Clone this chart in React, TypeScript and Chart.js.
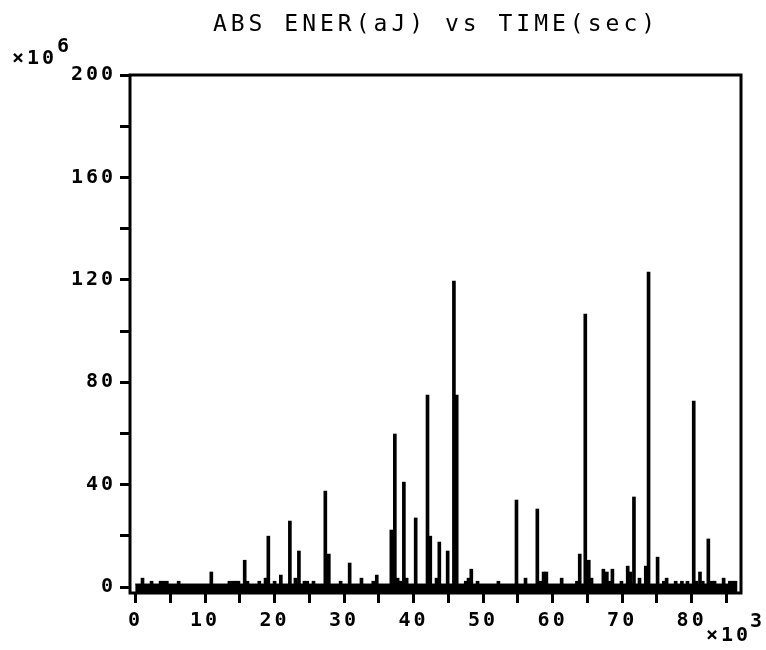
import React, { useEffect, useRef } from 'react';
import { Chart, registerables } from 'chart.js';

Chart.register(...registerables);

// ---- data (time in x10^3 sec, energy in x10^6 aJ) ----
const TITLE = 'ABS ENER(aJ) vs TIME(sec)';
const Y_EXPONENT = '6';
const X_EXPONENT = '3';

const eventTimes = [
  1.0, 2.3, 3.6, 4.0, 4.5, 6.2, 10.9, 13.5, 14.0, 14.4,
  14.8, 15.7, 16.1, 17.8, 18.7, 19.1, 20.0, 20.9, 22.2, 23.0,
  23.5, 24.3, 24.7, 25.6, 27.3, 27.8, 29.5, 30.8, 32.5, 34.2,
  34.7, 36.8, 37.3, 37.7, 38.1, 38.6, 39.0, 40.3, 42.0, 42.4,
  43.3, 43.7, 44.9, 45.8, 46.2, 47.5, 47.9, 48.3, 49.2, 52.2,
  54.8, 56.1, 57.8, 58.3, 58.7, 59.1, 61.3, 63.5, 63.9, 64.7,
  65.2, 65.6, 67.3, 67.8, 68.2, 68.6, 69.9, 70.8, 71.2, 71.7,
  72.5, 73.4, 73.8, 75.1, 76.0, 76.4, 77.7, 78.6, 79.4, 80.3,
  80.7, 81.2, 81.6, 82.4, 82.9, 83.3, 84.6, 85.5, 85.9, 86.3,
];

const eventEnergies = [
  3.5, 2.3, 2.3, 2.3, 2.3, 2.3, 5.9, 2.3, 2.3, 2.3,
  2.3, 10.5, 2.3, 2.3, 3.5, 19.9, 2.3, 4.7, 25.8, 3.5,
  14.1, 2.3, 2.3, 2.3, 37.5, 12.9, 2.3, 9.4, 3.5, 2.3,
  4.7, 22.3, 59.8, 3.5, 2.3, 41.0, 3.5, 27.0, 75.0, 19.9,
  3.5, 17.6, 14.1, 119.5, 75.0, 2.3, 3.5, 7.0, 2.3, 2.3,
  34.0, 3.5, 30.5, 2.3, 5.9, 5.9, 3.5, 2.3, 12.9, 106.6,
  10.5, 3.5, 7.0, 5.9, 2.3, 7.0, 2.3, 8.2, 5.9, 35.2,
  3.5, 8.2, 123.0, 11.7, 2.3, 3.5, 2.3, 2.3, 2.3, 72.7,
  2.3, 5.9, 2.3, 18.8, 2.3, 2.3, 3.5, 2.3, 2.3, 2.3,
];

// dense low-level events forming the floor band
const floorTimes = [-0.05, 86.5];
const floorEnergies = [1.2, 1.2];

const X_MIN = -0.8;
const X_MAX = 87.1;
const X_STEP = 5;
const X_LABEL_STEP = 10;
const Y_MIN = -2.3;
const Y_MAX = 200;
const Y_STEP = 20;
const Y_LABEL_STEP = 40;

const FONT_FAMILY = '"DejaVu Sans Mono", monospace';

const decorPlugin = {
  id: 'decor',
  beforeDraw(chart: any) {
    (chart.ctx as any).letterSpacing = '3px';
  },
  afterDatasetsDraw(chart: any) {
    const { ctx, chartArea } = chart;
    ctx.save();
    ctx.strokeStyle = '#000';
    ctx.lineWidth = 3;
    ctx.strokeRect(chartArea.left, chartArea.top, chartArea.right - chartArea.left, chartArea.bottom - chartArea.top);
    ctx.restore();
  },
  afterDraw(chart: any) {
    const ctx = chart.ctx;
    ctx.save();
    ctx.fillStyle = '#000';
    ctx.textBaseline = 'alphabetic';
    // title
    (ctx as any).letterSpacing = '4px';
    ctx.font = `23px ${FONT_FAMILY}`;
    ctx.textAlign = 'center';
    ctx.fillText(TITLE, 436, 31);
    // exponents
    (ctx as any).letterSpacing = '3px';
    ctx.font = `bold 20px ${FONT_FAMILY}`;
    ctx.textAlign = 'left';
    ctx.fillText('\u00d710', 12, 64);
    ctx.fillText(Y_EXPONENT, 57, 52);
    ctx.fillText('\u00d710', 706, 641);
    ctx.fillText(X_EXPONENT, 750, 627);
    ctx.restore();
    (ctx as any).letterSpacing = '0px';
  },
};

export default function App() {
  const canvasRef = useRef<HTMLCanvasElement | null>(null);

  useEffect(() => {
    const canvas = canvasRef.current;
    if (!canvas) return;
    const tickFont = { family: FONT_FAMILY, size: 20, weight: 'bold' as const };
    const chart = new Chart(canvas, {
      type: 'bar',
      data: {
        datasets: [
          {
            type: 'bar',
            label: 'events',
            data: eventTimes.map((t, i) => ({ x: t, y: eventEnergies[i] })),
            backgroundColor: '#000',
            borderWidth: 0,
            barThickness: 3,
            base: Y_MIN,
            grouped: false,
            order: 1,
          } as any,
          {
            type: 'line',
            label: 'floor',
            data: floorTimes.map((t, i) => ({ x: t, y: floorEnergies[i] })),
            borderColor: '#000',
            backgroundColor: '#000',
            borderWidth: 1,
            pointRadius: 0,
            fill: 'start',
            order: 2,
          } as any,
        ],
      },
      options: {
        animation: false,
        responsive: false,
        devicePixelRatio: 1,
        layout: { padding: { left: 0, right: 25, top: 75, bottom: 0 } },
        plugins: {
          legend: { display: false },
          title: { display: false },
          tooltip: { enabled: false },
        },
        scales: {
          x: {
            type: 'linear',
            min: X_MIN,
            max: X_MAX,
            offset: false,
            border: { display: false },
            grid: {
              display: true,
              drawOnChartArea: false,
              drawTicks: true,
              tickLength: 10,
              tickWidth: 3,
              tickColor: '#000',
              lineWidth: 3,
              color: '#000',
              offset: false,
            },
            ticks: {
              stepSize: X_STEP,
              includeBounds: false,
              autoSkip: false,
              maxRotation: 0,
              minRotation: 0,
              padding: 6,
              color: '#000',
              font: tickFont,
              callback: (v: any) => (Number(v) % X_LABEL_STEP === 0 ? String(v) : ''),
            },
            afterFit: (s: any) => {
              s.height = 57;
            },
          },
          y: {
            type: 'linear',
            min: Y_MIN,
            max: Y_MAX,
            border: { display: false },
            grid: {
              display: true,
              drawOnChartArea: false,
              drawTicks: true,
              tickLength: 10,
              tickWidth: 3,
              tickColor: '#000',
              lineWidth: 3,
              color: '#000',
            },
            ticks: {
              stepSize: Y_STEP,
              includeBounds: false,
              autoSkip: false,
              padding: 4,
              color: '#000',
              font: tickFont,
              callback: (v: any) => (Number(v) % Y_LABEL_STEP === 0 ? String(v) : ''),
            },
            afterFit: (s: any) => {
              s.width = 130;
            },
          },
        },
      } as any,
      plugins: [decorPlugin],
    });
    return () => chart.destroy();
  }, []);

  return (
    <div style={{ position: 'absolute', left: 0, top: 0, width: 766, height: 650, background: '#fff' }}>
      <canvas ref={canvasRef} width={766} height={650} style={{ display: 'block' }} />
    </div>
  );
}
